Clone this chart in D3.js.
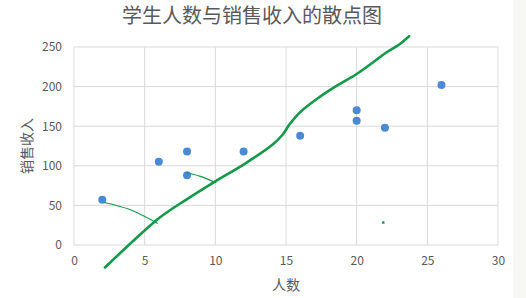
<!DOCTYPE html>
<html>
<head>
<meta charset="utf-8">
<script src="https://cdn.jsdelivr.net/npm/d3@7"></script>
<style>
  body { margin: 0; background: #fff; }
  svg { display: block; }
</style>
</head>
<body>
<div id="chart"></div>
<script>
// scatter data
var students = [2, 6, 8, 8, 12, 16, 20, 20, 22, 26];
var sales    = [57, 105, 118, 88, 118, 138, 170, 157, 148, 202];
var xTicks = [0, 5, 10, 15, 20, 25, 30];
var yTicks = [0, 50, 100, 150, 200, 250];

// hand-drawn green strokes, in data units
var trendX = [2.19, 4.3, 6.07, 7.95, 9.83, 12.19, 14.06, 14.77, 15.24, 15.95, 17.13, 18.54, 19.95, 21.12, 22.07, 23.01, 23.71];
var trendY = [-28.4, 6.9, 34.7, 57.4, 78.5, 103.8, 126.9, 139.5, 152.1, 166.9, 183.7, 200.5, 215.3, 230.1, 242.7, 253.2, 263.6];
var note1X = [2.12, 3.95, 5.93];
var note1Y = [53.7, 44.8, 27.1];
var note2X = [7.95, 8.89, 10.07];
var note2Y = [91.2, 86.9, 78.5];
var dotX = [21.88], dotY = [28.4];

var W = 526, H = 298;
var margin = {top: 47, right: 28, bottom: 53, left: 74};
var width = W - margin.left - margin.right;
var height = H - margin.top - margin.bottom;
var font = "'Microsoft YaHei', 'Noto Sans CJK SC', sans-serif";
var grey = "#595959";
var green = "#12994a";

var svg = d3.select("#chart").append("svg")
    .attr("width", W)
    .attr("height", H);

svg.append("rect").attr("x", 513).attr("width", 13).attr("height", H).attr("fill", "#f7f7f3");

var g = svg.append("g")
    .attr("transform", "translate(" + margin.left + "," + margin.top + ")");

var x = d3.scaleLinear().domain([0, 30]).range([0, width]);
var y = d3.scaleLinear().domain([0, 250]).range([height, 0]);

// gridlines
g.append("g").selectAll("line").data(yTicks).enter().append("line")
    .attr("x1", 0).attr("x2", width)
    .attr("y1", function(d) { return y(d); }).attr("y2", function(d) { return y(d); })
    .attr("stroke", "#d9d9d9").attr("stroke-width", 1);
g.append("g").selectAll("line").data(xTicks).enter().append("line")
    .attr("y1", 0).attr("y2", height)
    .attr("x1", function(d) { return x(d); }).attr("x2", function(d) { return x(d); })
    .attr("stroke", "#d9d9d9").attr("stroke-width", 1);

// axes (labels only)
var xAxis = g.append("g")
    .attr("transform", "translate(0," + height + ")")
    .call(d3.axisBottom(x).tickValues(xTicks).tickSize(0).tickPadding(11));
var yAxis = g.append("g")
    .call(d3.axisLeft(y).tickValues(yTicks).tickSize(0).tickPadding(12));
[xAxis, yAxis].forEach(function(a) {
  a.select(".domain").remove();
  a.selectAll("text").attr("fill", grey).style("font-size", "12px").style("font-family", font);
});

// points
g.selectAll("circle").data(students).enter().append("circle")
    .attr("cx", function(d) { return x(d); })
    .attr("cy", function(d, i) { return y(sales[i]); })
    .attr("r", 4)
    .attr("fill", "#4a8ad4");

// hand-drawn strokes
function zip(xs, ys) { return xs.map(function(v, i) { return [v, ys[i]]; }); }
var line = d3.line()
    .x(function(d) { return x(d[0]); })
    .y(function(d) { return y(d[1]); })
    .curve(d3.curveCatmullRom);

g.append("path").datum(zip(trendX, trendY))
    .attr("d", line).attr("fill", "none")
    .attr("stroke", green).attr("stroke-width", 2.6).attr("stroke-linecap", "round");
g.append("path").datum(zip(note1X, note1Y))
    .attr("d", line).attr("fill", "none")
    .attr("stroke", green).attr("stroke-width", 1.2);
g.append("path").datum(zip(note2X, note2Y))
    .attr("d", line).attr("fill", "none")
    .attr("stroke", green).attr("stroke-width", 1.2);
g.selectAll(".dot").data(zip(dotX, dotY)).enter().append("rect")
    .attr("class", "dot")
    .attr("x", function(d) { return x(d[0]) - 1.2; })
    .attr("y", function(d) { return y(d[1]) - 1.2; })
    .attr("width", 2.4).attr("height", 2.4)
    .attr("fill", green);

// titles
svg.append("text")
    .attr("x", 252).attr("y", 23)
    .attr("text-anchor", "middle")
    .attr("fill", grey)
    .style("font-family", font).style("font-size", "20px")
    .text("学生人数与销售收入的散点图");

svg.append("text")
    .attr("x", margin.left + width / 2).attr("y", 290)
    .attr("text-anchor", "middle")
    .attr("fill", grey)
    .style("font-family", font).style("font-size", "14px")
    .text("人数");

svg.append("text")
    .attr("transform", "translate(32," + (margin.top + height / 2) + ") rotate(-90)")
    .attr("text-anchor", "middle")
    .attr("fill", grey)
    .style("font-family", font).style("font-size", "14px")
    .text("销售收入");
</script>
</body>
</html>
